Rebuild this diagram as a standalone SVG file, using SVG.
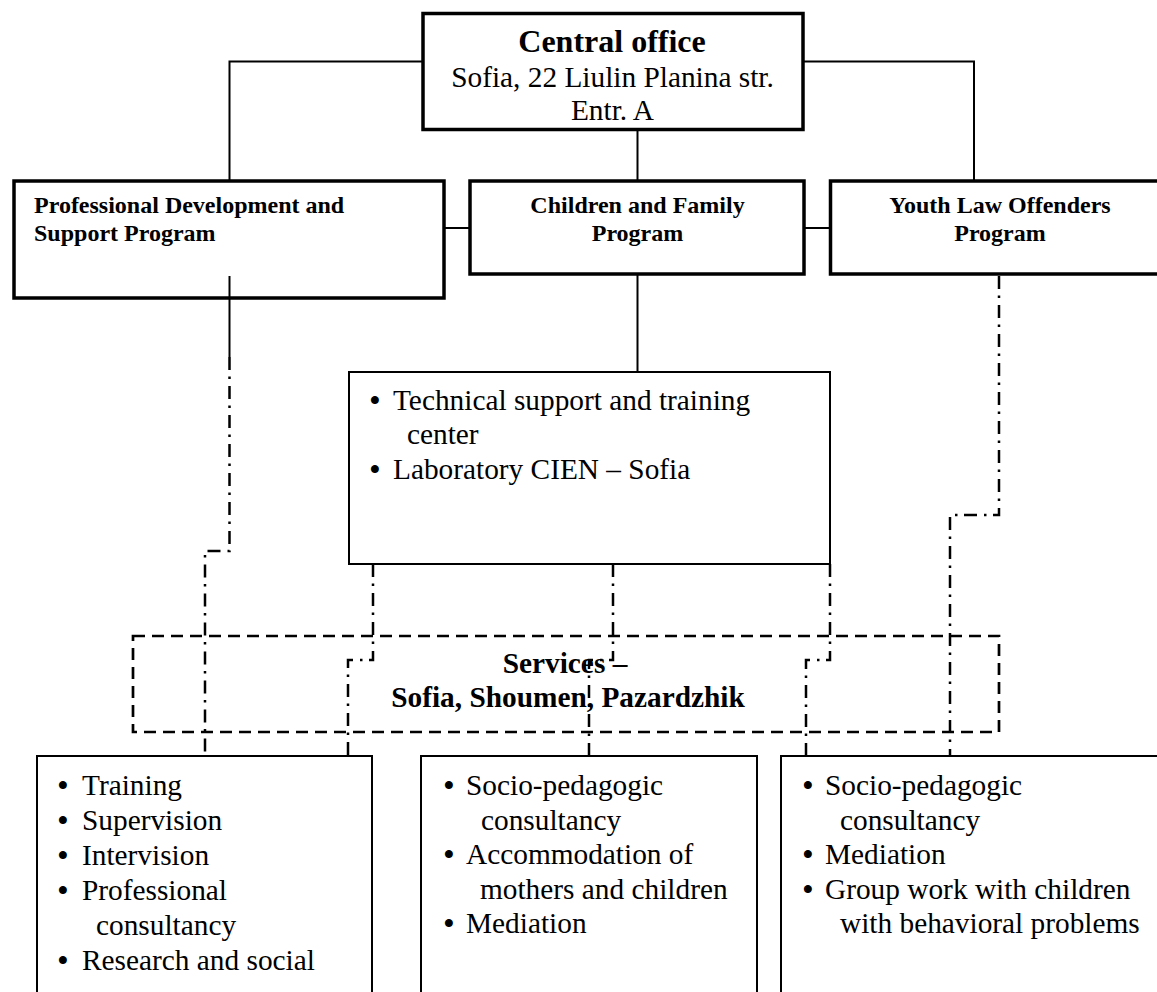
<svg xmlns="http://www.w3.org/2000/svg" width="1157" height="992" viewBox="0 0 1157 992">
<style>
.thick{fill:#fff;stroke:#000;stroke-width:3.5}
.thin{fill:#fff;stroke:#000;stroke-width:2}
.dashbox{fill:none;stroke:#000;stroke-width:2.7;stroke-dasharray:12 7}
.line{fill:none;stroke:#000;stroke-width:2}
.dd{fill:none;stroke:#000;stroke-width:2.5;stroke-dasharray:13 6.5 2.5 7}
text{font-family:"Liberation Serif","Times New Roman",serif;fill:#000}
.t{font-size:29.33px}
.bu{font-size:29.33px;text-anchor:middle;font-weight:bold}
.b{font-weight:bold}
.p{font-size:24px;font-weight:bold}
.title{font-size:32px;font-weight:bold}
.c{text-anchor:middle}
</style>
<rect width="1157" height="992" fill="#fff"/>

<g id="central">
<rect class="thick" x="423" y="13.5" width="380" height="116" stroke-width="4"/>
<text class="title c" x="612" y="52">Central office</text>
<text class="t c" x="612.5" y="87">Sofia, 22 Liulin Planina str.</text>
<text class="t c" x="612.5" y="120">Entr. A</text>
</g>

<g id="pd-program">
<rect class="thick" x="14" y="181" width="430" height="117"/>
<text class="p" x="34" y="213">Professional Development and</text>
<text class="p" x="34" y="241">Support Program</text>
</g>

<g id="children-program">
<rect class="thick" x="470" y="181" width="334" height="93"/>
<text class="p c" x="637.5" y="213">Children and Family</text>
<text class="p c" x="637.5" y="241">Program</text>
</g>

<g id="youth-program">
<rect class="thick" x="830.5" y="181" width="340" height="93"/>
<text class="p c" x="1000" y="213">Youth Law Offenders</text>
<text class="p c" x="1000" y="241">Program</text>
</g>

<g id="tech-center">
<rect class="thin" x="349" y="372" width="481" height="192"/>
<text class="bu" x="375" y="410">•</text>
<text class="t" x="393" y="410">Technical support and training</text>
<text class="t" x="407" y="444">center</text>
<text class="bu" x="375" y="479">•</text>
<text class="t" x="393" y="479">Laboratory CIEN – Sofia</text>
</g>

<g id="services">
<rect class="dashbox" x="133" y="636" width="866" height="96"/>
<text class="t b c" x="565" y="673">Services –</text>
<text class="t b c" x="568" y="707">Sofia, Shoumen, Pazardzhik</text>
</g>

<g id="pd-services">
<rect class="thin" x="37" y="756" width="335" height="250"/>
<text class="bu" x="63" y="795">•</text>
<text class="t" x="82" y="795">Training</text>
<text class="bu" x="63" y="830">•</text>
<text class="t" x="82" y="830">Supervision</text>
<text class="bu" x="63" y="865">•</text>
<text class="t" x="82" y="865">Intervision</text>
<text class="bu" x="63" y="900">•</text>
<text class="t" x="82" y="900">Professional</text>
<text class="t" x="96" y="935">consultancy</text>
<text class="bu" x="63" y="970">•</text>
<text class="t" x="82" y="970">Research and social</text>
</g>

<g id="children-services">
<rect class="thin" x="421" y="756" width="336" height="250"/>
<text class="bu" x="449" y="795">•</text>
<text class="t" x="466" y="795">Socio-pedagogic</text>
<text class="t" x="481" y="829.5">consultancy</text>
<text class="bu" x="449" y="864">•</text>
<text class="t" x="466" y="864">Accommodation of</text>
<text class="t" x="480" y="898.5">mothers and children</text>
<text class="bu" x="449" y="933">•</text>
<text class="t" x="466" y="933">Mediation</text>
</g>

<g id="youth-services">
<rect class="thin" x="781" y="756" width="400" height="250"/>
<text class="bu" x="808" y="795">•</text>
<text class="t" x="825" y="795">Socio-pedagogic</text>
<text class="t" x="840" y="829.5">consultancy</text>
<text class="bu" x="808" y="864">•</text>
<text class="t" x="825" y="864">Mediation</text>
<text class="bu" x="808" y="898.5">•</text>
<text class="t" x="825" y="898.5">Group work with children</text>
<text class="t" x="840" y="933">with behavioral problems</text>
</g>

<g id="connectors">
<path class="line" d="M423 61.5 H229.5 V181"/>
<path class="line" d="M803 61.5 H974 V181"/>
<path class="line" d="M637.5 129.5 V181"/>
<path class="line" d="M444 228 H470"/>
<path class="line" d="M804 228 H830.5"/>
<path class="line" d="M637.5 274 V372"/>
<path class="line" d="M229.5 276 V357"/>
<path class="dd" d="M229.5 357 V551 H205 V756"/>
<path class="dd" d="M373 564 V660 H348 V756"/>
<path class="dd" d="M613 564 V660 H589 V756"/>
<path class="dd" d="M830 564 V660 H806 V756"/>
<path class="dd" d="M999 276 V515 H950 V756"/>
</g>
</svg>
